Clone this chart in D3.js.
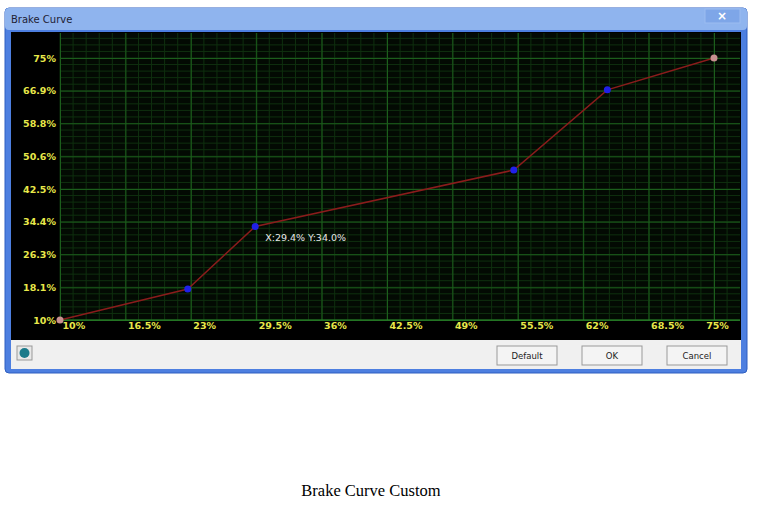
<!DOCTYPE html><html><head><meta charset="utf-8"><script src="https://cdn.jsdelivr.net/npm/d3@7"></script>
<style>body{margin:0;background:#fff}</style></head><body><svg id="c" width="763" height="505"></svg>
<script>
const xTicks=[10,16.5,23,29.5,36,42.5,49,55.5,62,68.5,75];
const xTickLabels=["10%","16.5%","23%","29.5%","36%","42.5%","49%","55.5%","62%","68.5%","75%"];
const yTicks=[10,18.1,26.3,34.4,42.5,50.6,58.8,66.9,75];
const yTickLabels=["10%","18.1%","26.3%","34.4%","42.5%","50.6%","58.8%","66.9%","75%"];
const pointX=[10,22.7,29.4,55.1,64.4,75];
const pointY=[10,17.7,33.2,47.2,67.1,75];
const tipLabel="X:29.4%  Y:34.0%";
const svg=d3.select("#c");
const win=svg.append("g");
win.append("rect").attr("x",5).attr("y",8).attr("width",742).attr("height",365).attr("rx",4).attr("fill","#4d7fe0").attr("stroke","#2f5fc0");
win.append("rect").attr("x",5).attr("y",8).attr("width",742).attr("height",22).attr("rx",4).attr("fill","#8fb4ee");
win.append("text").attr("x",11).attr("y",23).text("Brake Curve").attr("font-family","DejaVu Sans").attr("font-size",10).attr("fill","#223");
win.append("rect").attr("x",705).attr("y",9).attr("width",35).attr("height",14).attr("fill","#7ea6e8").attr("stroke","#9cbcf0");
win.append("text").attr("x",722).attr("y",20).attr("text-anchor","middle").text("×").attr("font-family","DejaVu Sans").attr("font-weight","bold").attr("font-size",12).attr("fill","#fff");
win.append("rect").attr("x",11).attr("y",32).attr("width",730).attr("height",308).attr("fill","#000");
win.append("rect").attr("x",11).attr("y",340).attr("width",730).attr("height",29).attr("fill","#f0f0f0");
const btns=[["Default",497,557],["OK",582,642],["Cancel",667,727]];
btns.forEach(b=>{win.append("rect").attr("x",b[1]).attr("y",346).attr("width",b[2]-b[1]).attr("height",19).attr("fill","#f4f4f4").attr("stroke","#999");
win.append("text").attr("x",(b[1]+b[2])/2).attr("y",359).attr("text-anchor","middle").text(b[0]).attr("font-family","DejaVu Sans").attr("font-size",8.5).attr("fill","#222");});
win.append("rect").attr("x",17).attr("y",346).attr("width",15).attr("height",14).attr("fill","#e8e8e8").attr("stroke","#999");
win.append("circle").attr("cx",24.5).attr("cy",353).attr("r",5).attr("fill","#1a7a8a");
const x=d3.scaleLinear().domain([10,75]).range([60,714]);
const y=d3.scaleLinear().domain([10,75]).range([320,58]);
const gx0=60,gx1=740,gy0=33,gy1=320;
const g=svg.append("g");
g.append("rect").attr("x",gx0).attr("y",gy0).attr("width",gx1-gx0).attr("height",gy1-gy0).attr("fill","#030a03");
const xs=6.5/5, ys=8.125/5;
for(let v=10;x(v)<=gx1+0.1;v+=xs){g.append("line").attr("x1",x(v)).attr("x2",x(v)).attr("y1",gy0).attr("y2",gy1).attr("stroke","#0f300f").attr("stroke-width",1);}
for(let v=10;y(v)>=gy0-0.1;v+=ys){g.append("line").attr("y1",y(v)).attr("y2",y(v)).attr("x1",gx0).attr("x2",gx1).attr("stroke","#0f300f").attr("stroke-width",1);}
const gxA=g.append("g").attr("transform",`translate(0,${gy1})`).call(d3.axisBottom(x).tickValues(xTicks).tickSize(-(gy1-gy0)).tickFormat((d,i)=>xTickLabels[i]));
const gyA=g.append("g").attr("transform",`translate(${gx0},0)`).call(d3.axisLeft(y).tickValues(yTicks).tickSize(-(gx1-gx0)).tickFormat((d,i)=>yTickLabels[i]));
[gxA,gyA].forEach(a=>{a.select(".domain").remove();a.selectAll(".tick line").attr("stroke","#1c5e1c");
a.selectAll("text").attr("fill","#e8e84a").attr("font-family","DejaVu Sans").attr("font-weight","bold").attr("font-size",9.5);});
gxA.selectAll("text").attr("dy","0.6em").attr("text-anchor","start").attr("dx",2);
gxA.selectAll(".tick:last-child text").attr("text-anchor","middle").attr("dx",3);
gyA.selectAll("text").attr("dx",-1);
g.append("line").attr("x1",gx0).attr("x2",gx1).attr("y1",gy1).attr("y2",gy1).attr("stroke","#2a8a2a");
const pts=pointX.map((v,i)=>[v,pointY[i]]);
g.append("path").attr("d",d3.line().x(d=>x(d[0])).y(d=>y(d[1]))(pts)).attr("fill","none").attr("stroke","#8a1c1c").attr("stroke-width",1.5);
g.selectAll("circle.p").data(pts).join("circle").attr("cx",d=>x(d[0])).attr("cy",d=>y(d[1])).attr("r",3.5)
 .attr("fill",(d,i)=>i==0||i==pts.length-1?"#c89090":"#2020e8");
g.append("text").attr("x",x(pointX[2])+10).attr("y",y(pointY[2])+15).text(tipLabel).attr("fill","#e8e8e8").attr("font-family","DejaVu Sans").attr("font-size",9.5);
svg.append("text").attr("x",371).attr("y",496).attr("text-anchor","middle").text("Brake Curve Custom").attr("font-family","Liberation Serif").attr("font-size",16.5).attr("fill","#000");
</script></body></html>
